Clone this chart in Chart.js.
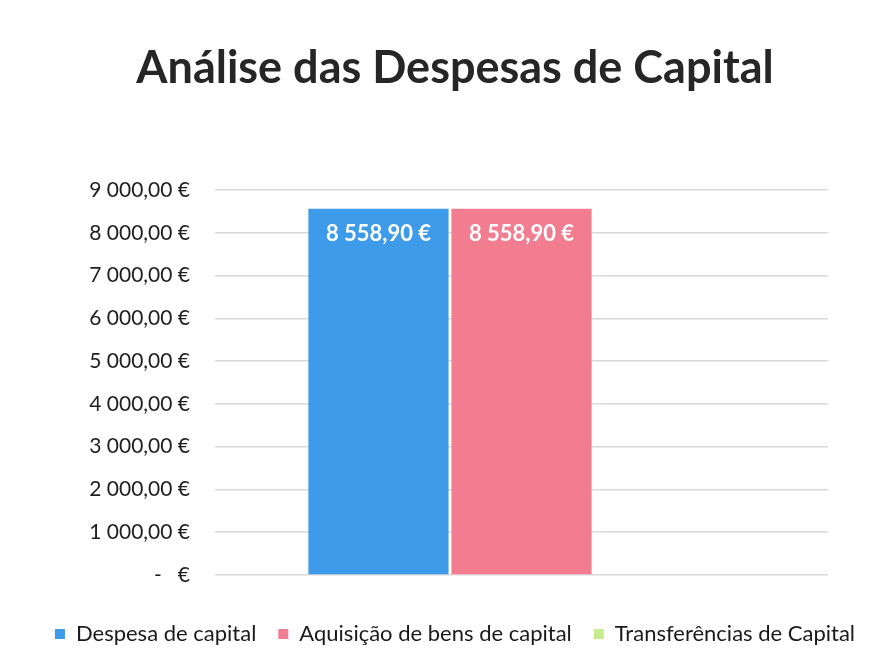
<!DOCTYPE html>
<html>
<head>
<meta charset="utf-8">
<script src="https://cdn.jsdelivr.net/npm/chart.js@4/dist/chart.umd.min.js"></script>
<style>
html,body{margin:0;padding:0;background:#fff;}
#wrap{width:882px;height:661px;position:relative;}
</style>
</head>
<body>
<div id="wrap"><canvas id="c" width="882" height="661"></canvas></div>
<script>
const chartTitle = "Análise das Despesas de Capital";
const categories = [""];
const seriesNames = ["Despesa de capital", "Aquisição de bens de capital", "Transferências de Capital"];
const despesaCapital = [8558.90];
const aquisicaoBens = [8558.90];
const transferencias = [0];
const seriesColors = ["#3d9bea", "#f27d91", "#c8eb8e"];

function fmtEuro(v){
  if (v === 0) return "-   €";
  const parts = v.toFixed(2).split(".");
  const intPart = parts[0].replace(/\B(?=(\d{3})+(?!\d))/g, " ");
  return intPart + "," + parts[1] + " €";
}

const labelPlugin = {
  id: "barLabels",
  afterDatasetsDraw(chart){
    const ctx = chart.ctx;
    ctx.save();
    ctx.fillStyle = "#ffffff";
    ctx.font = "bold 22px Lato";
    ctx.textAlign = "center";
    ctx.textBaseline = "middle";
    chart.data.datasets.forEach((ds, i) => {
      const meta = chart.getDatasetMeta(i);
      meta.data.forEach((el, j) => {
        const v = ds.data[j];
        if (v > 0) ctx.fillText(fmtEuro(v), el.x, el.y + 25);
      });
    });
    ctx.restore();
  }
};

new Chart(document.getElementById("c"), {
  type: "bar",
  data: {
    labels: categories,
    datasets: [
      { label: seriesNames[0], data: despesaCapital, backgroundColor: seriesColors[0] },
      { label: seriesNames[1], data: aquisicaoBens, backgroundColor: seriesColors[1] },
      { label: seriesNames[2], data: transferencias, backgroundColor: seriesColors[2] }
    ]
  },
  options: {
    responsive: false,
    animation: false,
    devicePixelRatio: 1,
    layout: { padding: { left: 28, right: 0, top: 0, bottom: 6 } },
    datasets: { bar: { barPercentage: 0.98, categoryPercentage: 0.7 } },
    plugins: {
      title: {
        display: true,
        text: chartTitle,
        color: "#262626",
        font: { family: "Lato", size: 45, weight: "bold" },
        padding: { top: 41, bottom: 95 }
      },
      legend: {
        position: "bottom",
        labels: {
          color: "#1a1a1a",
          font: { family: "Lato", size: 22 },
          boxWidth: 10,
          boxHeight: 10,
          padding: 22
        }
      },
      tooltip: { enabled: false }
    },
    scales: {
      x: {
        grid: { display: false },
        border: { display: false },
        ticks: { display: false },
        afterFit(s){ s.height = 26; }
      },
      y: {
        min: 0,
        max: 9000,
        ticks: {
          stepSize: 1000,
          padding: 25,
          color: "#1f1f1f",
          font: { family: "Lato", size: 21 },
          callback: (v) => fmtEuro(v)
        },
        grid: { color: "#d9d9d9", lineWidth: 1.5, drawTicks: false },
        border: { display: false },
        afterFit(s){ s.width = 187; }
      },
      yRight: {
        position: "right",
        display: true,
        ticks: { display: false },
        grid: { display: false },
        border: { display: false },
        afterFit(s){ s.width = 54; }
      }
    }
  },
  plugins: [labelPlugin]
});
</script>
</body>
</html>
